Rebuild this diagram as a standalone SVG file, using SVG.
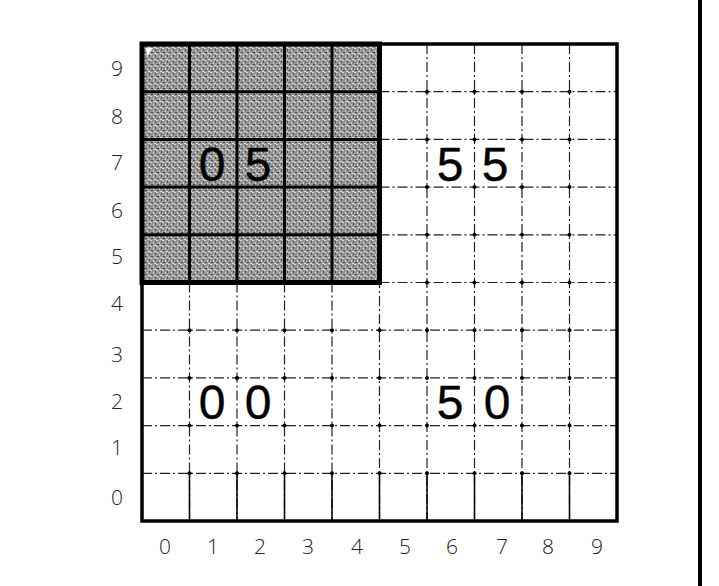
<svg xmlns="http://www.w3.org/2000/svg" width="719" height="586" viewBox="0 0 719 586">
<style>
.axis{font-family:"Open Sans","Liberation Sans",sans-serif;font-weight:300;font-size:21px;fill:#222;text-anchor:middle;dominant-baseline:central}
.big{font-family:"Liberation Sans","DejaVu Sans",sans-serif;font-size:48px;fill:#000;stroke:#000;stroke-width:0.4;text-anchor:middle;dominant-baseline:central}
.thin{stroke:#222;stroke-width:1.2;stroke-dasharray:10 3 2 3;fill:none}
.thick{stroke:#000;stroke-width:3;fill:none}
</style>
<defs>
<pattern id="noise" width="6" height="6" patternUnits="userSpaceOnUse">
<rect width="6" height="6" fill="#959595"/>
<rect x="0" y="0" width="2" height="1" fill="#d4d4d4"/>
<rect x="3" y="2" width="1" height="2" fill="#cccccc"/>
<rect x="1" y="4" width="2" height="1" fill="#4a4a4a"/>
<rect x="4" y="5" width="2" height="1" fill="#dcdcdc"/>
<rect x="5" y="1" width="1" height="2" fill="#505050"/>
</pattern>
</defs>
<rect width="719" height="586" fill="#fff"/>
<g id="grid-lines">
<path class="thin" d="M189.5 282.5V521M237 282.5V521M284.5 282.5V521M332 282.5V521M379.5 44V521M427 44V521M474.5 44V521M522 44V521M569.5 44V521"/>
<path class="thin" d="M379.5 91.7H617M379.5 139.4H617M379.5 187.1H617M379.5 234.8H617M379.5 282.5H617M142 330.2H617M142 377.9H617M142 425.6H617M142 473.3H617"/>
<g fill="#000">
<circle cx="427" cy="91.7" r="2"/><circle cx="474.5" cy="91.7" r="2"/><circle cx="522" cy="91.7" r="2"/><circle cx="569.5" cy="91.7" r="2"/>
<circle cx="427" cy="139.4" r="2"/><circle cx="474.5" cy="139.4" r="2"/><circle cx="522" cy="139.4" r="2"/><circle cx="569.5" cy="139.4" r="2"/>
<circle cx="427" cy="187.1" r="2"/><circle cx="474.5" cy="187.1" r="2"/><circle cx="522" cy="187.1" r="2"/><circle cx="569.5" cy="187.1" r="2"/>
<circle cx="427" cy="234.8" r="2"/><circle cx="474.5" cy="234.8" r="2"/><circle cx="522" cy="234.8" r="2"/><circle cx="569.5" cy="234.8" r="2"/>
<circle cx="427" cy="282.5" r="2"/><circle cx="474.5" cy="282.5" r="2"/><circle cx="522" cy="282.5" r="2"/><circle cx="569.5" cy="282.5" r="2"/>
<circle cx="189.5" cy="330.2" r="2"/><circle cx="237" cy="330.2" r="2"/><circle cx="284.5" cy="330.2" r="2"/><circle cx="332" cy="330.2" r="2"/><circle cx="379.5" cy="330.2" r="2"/><circle cx="427" cy="330.2" r="2"/><circle cx="474.5" cy="330.2" r="2"/><circle cx="522" cy="330.2" r="2"/><circle cx="569.5" cy="330.2" r="2"/>
<circle cx="189.5" cy="377.9" r="2"/><circle cx="237" cy="377.9" r="2"/><circle cx="284.5" cy="377.9" r="2"/><circle cx="332" cy="377.9" r="2"/><circle cx="379.5" cy="377.9" r="2"/><circle cx="427" cy="377.9" r="2"/><circle cx="474.5" cy="377.9" r="2"/><circle cx="522" cy="377.9" r="2"/><circle cx="569.5" cy="377.9" r="2"/>
<circle cx="189.5" cy="425.6" r="2"/><circle cx="237" cy="425.6" r="2"/><circle cx="284.5" cy="425.6" r="2"/><circle cx="332" cy="425.6" r="2"/><circle cx="379.5" cy="425.6" r="2"/><circle cx="427" cy="425.6" r="2"/><circle cx="474.5" cy="425.6" r="2"/><circle cx="522" cy="425.6" r="2"/><circle cx="569.5" cy="425.6" r="2"/>
<circle cx="189.5" cy="473.3" r="2"/><circle cx="237" cy="473.3" r="2"/><circle cx="284.5" cy="473.3" r="2"/><circle cx="332" cy="473.3" r="2"/><circle cx="379.5" cy="473.3" r="2"/><circle cx="427" cy="473.3" r="2"/><circle cx="474.5" cy="473.3" r="2"/><circle cx="522" cy="473.3" r="2"/><circle cx="569.5" cy="473.3" r="2"/>
</g>
<path stroke="#000" stroke-width="1.5" d="M189.5 473.3V521M237 473.3V521M284.5 473.3V521M332 473.3V521M379.5 473.3V521M427 473.3V521M474.5 473.3V521M522 473.3V521M569.5 473.3V521"/>
</g>
<g id="outer-frame">
<rect x="142" y="44" width="475" height="477" fill="none" stroke="#000" stroke-width="3.5"/>
</g>
<g id="shaded-block">
<rect x="142" y="44" width="237.5" height="238.5" fill="url(#noise)"/>
<path stroke="#000" stroke-width="3" fill="none" d="M189.5 44V282.5M237 44V282.5M284.5 44V282.5M332 44V282.5M142 91.7H379.5M142 139.4H379.5M142 187.1H379.5M142 234.8H379.5"/>
<rect x="142" y="44" width="237.5" height="238.5" fill="none" stroke="#000" stroke-width="5"/>
<path d="M146 48H153L147 56Z" fill="#fff"/>
</g>
<g id="label-05"><text class="big" x="212" y="164">0</text><text class="big" x="258" y="164">5</text></g>
<g id="label-55"><text class="big" x="450" y="164">5</text><text class="big" x="495" y="164">5</text></g>
<g id="label-00"><text class="big" x="212" y="402">0</text><text class="big" x="258" y="402">0</text></g>
<g id="label-50"><text class="big" x="450" y="402">5</text><text class="big" x="497" y="402">0</text></g>
<g id="y-axis">
<text class="axis" x="117" y="68">9</text><text class="axis" x="117" y="116">8</text><text class="axis" x="117" y="162">7</text><text class="axis" x="117" y="210">6</text><text class="axis" x="117" y="256">5</text><text class="axis" x="117" y="303">4</text><text class="axis" x="117" y="354">3</text><text class="axis" x="117" y="401">2</text><text class="axis" x="117" y="447">1</text><text class="axis" x="117" y="497">0</text>
</g>
<g id="x-axis">
<text class="axis" x="165" y="546">0</text><text class="axis" x="213" y="546">1</text><text class="axis" x="260" y="546">2</text><text class="axis" x="308" y="546">3</text><text class="axis" x="357" y="546">4</text><text class="axis" x="405" y="546">5</text><text class="axis" x="452" y="546">6</text><text class="axis" x="502" y="546">7</text><text class="axis" x="548" y="546">8</text><text class="axis" x="597" y="546">9</text>
</g>
<g id="right-rule"><line x1="700" y1="0" x2="700" y2="586" stroke="#000" stroke-width="4"/></g>
</svg>
